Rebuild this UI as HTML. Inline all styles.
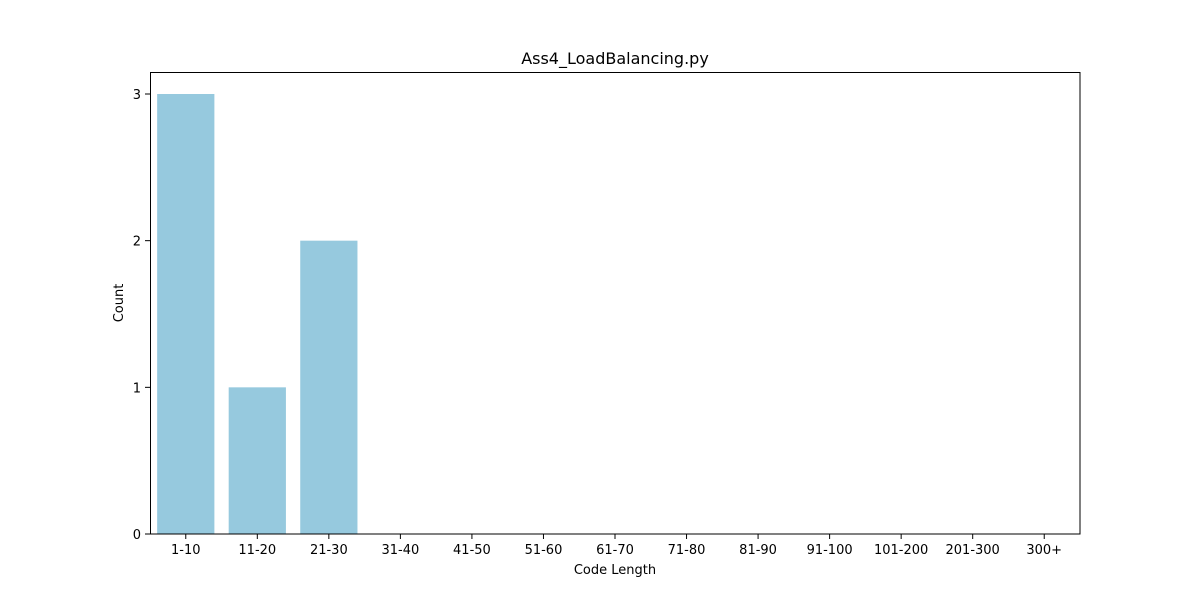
<!DOCTYPE html>
<html><head><meta charset="utf-8"><style>
body{margin:0;background:#fff;}
svg text{font-family:"DejaVu Sans","Liberation Sans",sans-serif;fill:#000;}
</style></head><body>
<svg id="chart" width="1200" height="600" xmlns="http://www.w3.org/2000/svg">
<rect width="1200" height="600" fill="#fff"/>
<text x="615" y="64" font-size="16" text-anchor="middle">Ass4_LoadBalancing.py</text>
<g id="bars"></g>
<g id="xticks"></g>
<g id="yticks"></g>
<rect x="150.5" y="72.5" width="929.5" height="461.5" fill="none" stroke="#000" stroke-width="1"/>
<text x="615" y="574" font-size="13" text-anchor="middle">Code Length</text>
<text transform="translate(123,303) rotate(-90)" font-size="13" text-anchor="middle">Count</text>
</svg>
<script>
const categories=["1-10","11-20","21-30","31-40","41-50","51-60","61-70","71-80","81-90","91-100","101-200","201-300","300+"];
const counts=[3,1,2,0,0,0,0,0,0,0,0,0,0];
const yTicks=[0,1,2,3];
const L=150,R=1080,T=72,B=534,yMax=3.15;
const ns="http://www.w3.org/2000/svg";
const step=(R-L)/categories.length;
const xc=i=>L+step*(i+0.5);
const y=v=>B-(v/yMax)*(B-T);
const bars=document.getElementById('bars'),xt=document.getElementById('xticks'),yt=document.getElementById('yticks');
categories.forEach((c,i)=>{
  const r=document.createElementNS(ns,'rect');
  r.setAttribute('x',xc(i)-step*0.4);r.setAttribute('width',step*0.8);
  r.setAttribute('y',y(counts[i]));r.setAttribute('height',B-y(counts[i]));
  r.setAttribute('fill','#96c9de');
  
  
  bars.appendChild(r);
  const l=document.createElementNS(ns,'line');
  l.setAttribute('x1',xc(i));l.setAttribute('x2',xc(i));l.setAttribute('y1',B);l.setAttribute('y2',B+5);l.setAttribute('stroke','#000');
  
  
  xt.appendChild(l);
  const t=document.createElementNS(ns,'text');
  t.setAttribute('x',xc(i));t.setAttribute('y',B+20);t.setAttribute('font-size','13');t.setAttribute('text-anchor','middle');
  t.textContent=c;
  
  
  xt.appendChild(t);
});
yTicks.forEach(v=>{
  const l=document.createElementNS(ns,'line');
  l.setAttribute('x1',L-5);l.setAttribute('x2',L);l.setAttribute('y1',y(v));l.setAttribute('y2',y(v));l.setAttribute('stroke','#000');
  
  
  yt.appendChild(l);
  const t=document.createElementNS(ns,'text');
  t.setAttribute('x',L-9);t.setAttribute('y',y(v)+5);t.setAttribute('font-size','13');t.setAttribute('text-anchor','end');
  t.textContent=v;
  
  
  yt.appendChild(t);
});
</script>
</body></html>
